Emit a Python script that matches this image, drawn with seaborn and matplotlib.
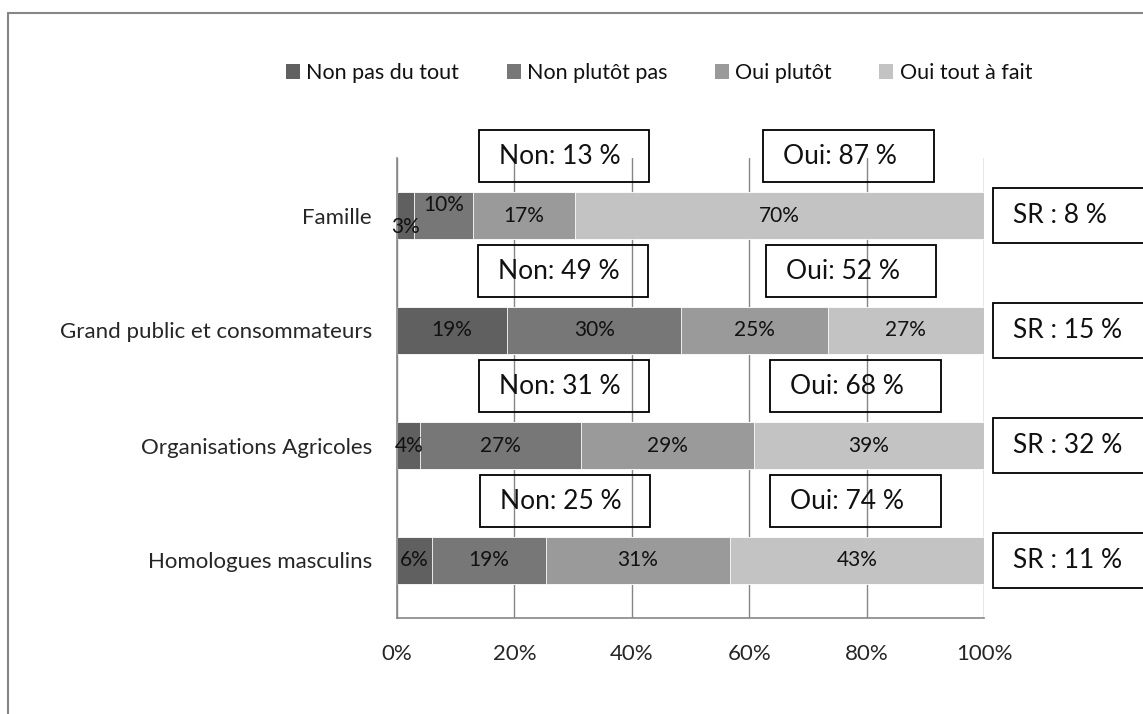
import numpy as np
import pandas as pd
import matplotlib.pyplot as plt
import seaborn as sns
from matplotlib.patches import Rectangle, Patch
from matplotlib.lines import Line2D

# -------------------------------------------------------------------
# DONNEES
# -------------------------------------------------------------------
categories = ['Famille', 'Grand public et consommateurs',
              'Organisations Agricoles', 'Homologues masculins']
series = ['Non pas du tout', 'Non plutôt pas', 'Oui plutôt', 'Oui tout à fait']

non_pas_du_tout = [2.9, 18.8, 4.0, 6.0]
non_plutot_pas = [10.0, 29.6, 27.4, 19.4]
oui_plutot = [17.4, 25.0, 29.4, 31.3]
oui_tout_a_fait = [69.7, 26.6, 39.2, 43.3]

non_totaux = ['Non: 13 %', 'Non: 49 %', 'Non: 31 %', 'Non: 25 %']
oui_totaux = ['Oui: 87 %', 'Oui: 52 %', 'Oui: 68 %', 'Oui: 74 %']
sr_totaux = ['SR : 8 %', 'SR : 15 %', 'SR : 32 %', 'SR : 11 %']

xticks = [0, 20, 40, 60, 80, 100]

# -------------------------------------------------------------------
# STYLE
# -------------------------------------------------------------------
couleurs = ['#606060', '#777777', '#9a9a9a', '#c3c3c3']
gris = '#868686'

sns.set_style('white')
plt.rcParams['font.family'] = ['Lato', 'DejaVu Sans']
plt.rcParams['text.color'] = '#111111'

df = pd.DataFrame({'categorie': categories,
                   series[0]: non_pas_du_tout,
                   series[1]: non_plutot_pas,
                   series[2]: oui_plutot,
                   series[3]: oui_tout_a_fait})
vals = df[series].to_numpy()
cum = vals.cumsum(axis=1)

fig = plt.figure(figsize=(11.43, 7.14), dpi=100)
ax = fig.add_axes([397 / 1143, 1 - 618 / 714, 587 / 1143, 460 / 714])

# barres empilées : on superpose les cumuls du plus long au plus court
for j in reversed(range(len(series))):
    sns.barplot(x=cum[:, j], y=df['categorie'], orient='h', color=couleurs[j],
                saturation=1, width=0.406, errorbar=None, edgecolor='white',
                linewidth=0.6, ax=ax, zorder=2)

ax.set_xlim(0, 100)
ax.set_ylim(3.5, -0.5)
ax.set_xlabel('')
ax.set_ylabel('')

# grille et axes
ax.set_axisbelow(True)
ax.xaxis.grid(True, color=gris, linewidth=1)
ax.yaxis.grid(False)
for s in ['top', 'right']:
    ax.spines[s].set_visible(False)
for s in ['left', 'bottom']:
    ax.spines[s].set_color(gris)
    ax.spines[s].set_linewidth(1.2)

ax.set_xticks(xticks)
ax.set_xticklabels([f'{v}%' for v in xticks], fontsize=16)
ax.tick_params(axis='x', length=6.5, width=1, color=gris, pad=12)

ax.set_yticks(range(len(categories)))
ax.set_yticklabels(categories, fontsize=16)
ax.tick_params(axis='y', which='major', length=0, pad=18)
ax.set_yticks(np.arange(-0.5, len(categories), 1), minor=True)
ax.tick_params(axis='y', which='minor', length=5, width=1, color=gris)

# étiquettes de données
decalage = {(0, 0): 0.1, (0, 1): -0.09}
for i in range(len(categories)):
    for j in range(len(series)):
        v = vals[i, j]
        ax.text(cum[i, j] - v / 2, i + decalage.get((i, j), 0), f'{round(v)}%',
                ha='center', va='center', fontsize=15, zorder=4)

# zones de texte Non / Oui / SR
non_x0 = [14.0, 13.8, 14.0, 14.1]
oui_x0 = [62.4, 62.9, 63.6, 63.6]
for i in range(len(categories)):
    for x0, txt in [(non_x0[i], non_totaux[i]), (oui_x0[i], oui_totaux[i])]:
        ax.add_patch(Rectangle((x0, i - 0.74), 29.0, 0.452, fill=False,
                               edgecolor='black', linewidth=1.3, clip_on=False, zorder=5))
        ax.text(x0 + 3.4, i - 0.513, txt, ha='left', va='center',
                fontsize=19, zorder=6, clip_on=False)
    ax.add_patch(Rectangle((101.5, i - 0.235), 40, 0.47, facecolor='white',
                           edgecolor='black', linewidth=1.3, clip_on=False, zorder=5))
    ax.text(104.9, i, sr_totaux[i], ha='left', va='center', fontsize=19,
            zorder=6, clip_on=False)

# légende
poignees = [Patch(facecolor=c, edgecolor='none') for c in couleurs]
fig.legend(poignees, series, loc='center left', ncol=4,
           bbox_to_anchor=(286 / 1143, 1 - 73 / 714), frameon=False,
           fontsize=15.5, handlelength=0.65, handleheight=0.65,
           handletextpad=0.3, columnspacing=2.2, borderpad=0, borderaxespad=0)

# cadre du graphique (bords gauche et haut visibles)
fig.add_artist(Line2D([8 / 1143, 8 / 1143], [0, 1 - 13 / 714],
                      transform=fig.transFigure, color=gris, linewidth=1.5))
fig.add_artist(Line2D([8 / 1143, 1], [1 - 13 / 714, 1 - 13 / 714],
                      transform=fig.transFigure, color=gris, linewidth=1.5))

fig.savefig('out.png', dpi=100)
